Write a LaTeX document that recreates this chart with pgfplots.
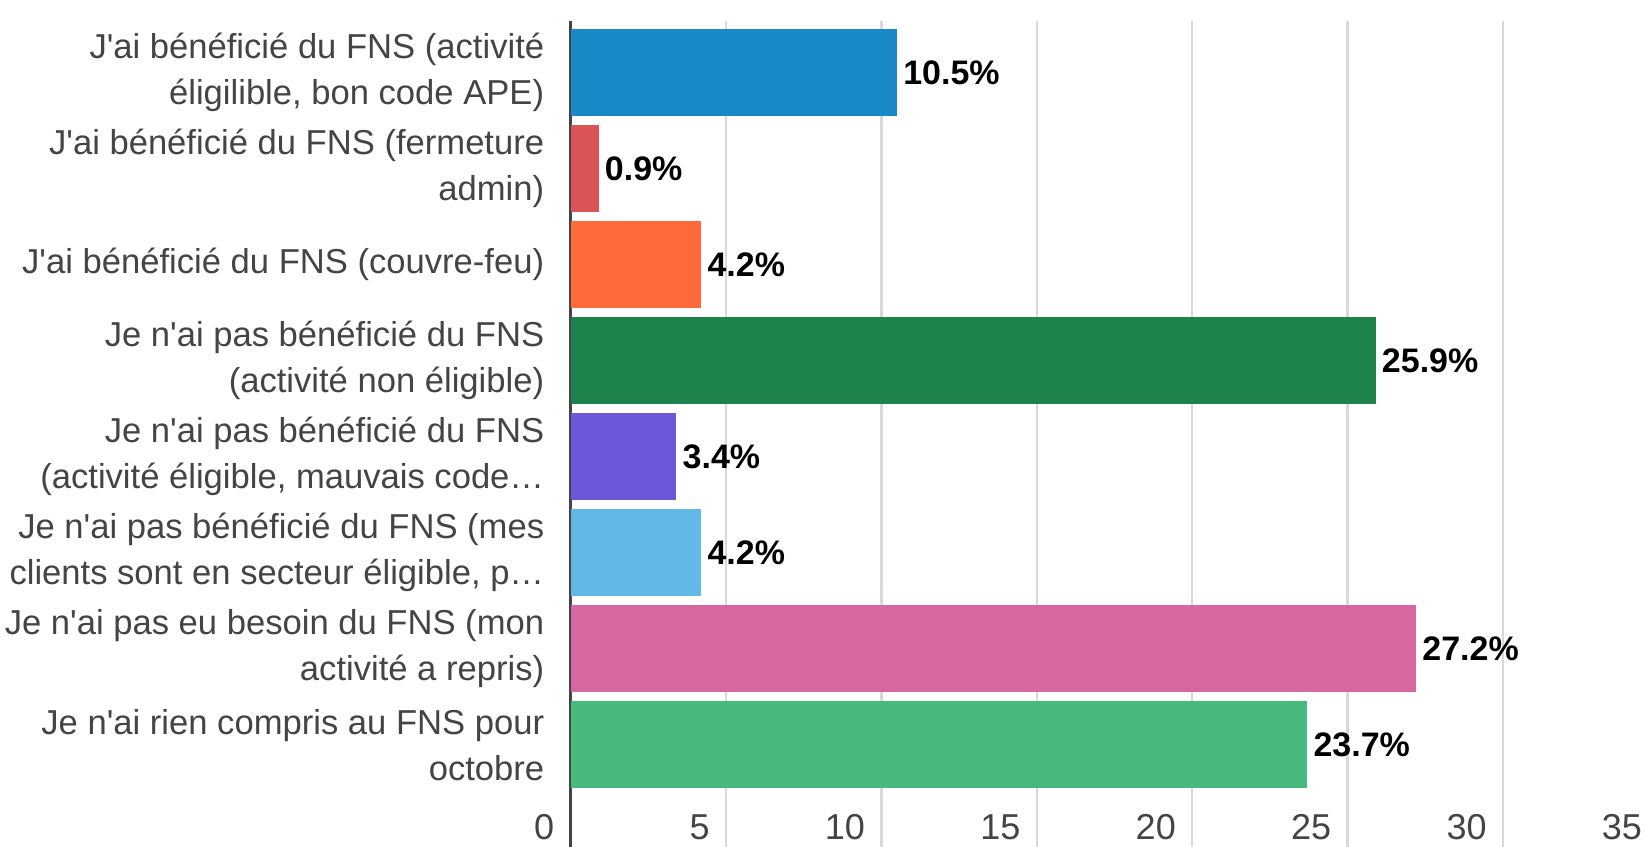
\documentclass[border=0pt]{standalone}
\usepackage{fontspec}
\setmainfont{Liberation Sans}
\usepackage{pgfplots}
\pgfplotsset{compat=1.18}

\definecolor{labelgray}{HTML}{444444}
\definecolor{gridgray}{HTML}{D9D9D9}
\definecolor{cA}{HTML}{1989C8}
\definecolor{cB}{HTML}{DB5455}
\definecolor{cC}{HTML}{FF6A3A}
\definecolor{cD}{HTML}{1E824C}
\definecolor{cE}{HTML}{6C56DA}
\definecolor{cF}{HTML}{62B8E6}
\definecolor{cG}{HTML}{D6679F}
\definecolor{cH}{HTML}{48B97D}
\newcommand{\ap}{\textquotesingle}

\begin{document}
\begin{tikzpicture}
\begin{axis}[
name=ax, scale only axis, width=543.9pt, height=413pt,
xbar, bar width=43.5pt, bar shift=0pt,
xmin=0, xmax=35, ymin=-1.066, ymax=7.54,
xtick={0,5,...,35}, ytick={0,...,7},
yticklabels={
 Je n\ap ai rien compris au FNS pour\\octobre,
 Je n\ap ai pas eu besoin du FNS (mon\\activité a repris),
 {Je n\ap ai pas bénéficié du FNS (mes\\clients sont en secteur éligible, p…},
 {Je n\ap ai pas bénéficié du FNS\\(activité éligible, mauvais code…},
 Je n\ap ai pas bénéficié du FNS\\(activité non éligible),
 J\ap ai bénéficié du FNS (couvre-feu),
 J\ap ai bénéficié du FNS (fermeture\\admin),
 {J\ap ai bénéficié du FNS (activité\\éligilible, bon code APE)}
},
separate axis lines, axis x line*=bottom, axis y line*=left,
x axis line style={draw=none},
y axis line style={draw=labelgray, line width=1.9pt},
major tick length=0pt,
xmajorgrids, major grid style={gridgray, line width=1.2pt},
/pgf/number format/assume math mode=true,
yticklabel style={font=\fontsize{17.3}{23}\selectfont, text=labelgray, align=right, inner sep=0pt, xshift=-13pt},
xticklabel style={font=\fontsize{18}{20}\selectfont, text=labelgray, anchor=base east, inner sep=0pt, xshift=-8pt, yshift=3.5pt},
nodes near coords={\pgfmathprintnumber[fixed,fixed zerofill,precision=1]{\pgfplotspointmeta}\%},
every node near coord/.append style={font=\bfseries\fontsize{17}{20}\selectfont, text=black, anchor=west, inner sep=0pt, xshift=3pt},
]
\addplot[fill=cA, draw=none] coordinates {(10.5,7)};
\addplot[fill=cB, draw=none] coordinates {(0.9,6)};
\addplot[fill=cC, draw=none] coordinates {(4.2,5)};
\addplot[fill=cD, draw=none] coordinates {(25.9,4)};
\addplot[fill=cE, draw=none] coordinates {(3.4,3)};
\addplot[fill=cF, draw=none] coordinates {(4.2,2)};
\addplot[fill=cG, draw=none] coordinates {(27.2,1)};
\addplot[fill=cH, draw=none] coordinates {(23.7,0)};
\end{axis}
\pgfresetboundingbox
\path[use as bounding box] ([xshift=-285.3pt]ax.south west) rectangle ([xshift=537.7pt,yshift=423.5pt]ax.south west);
\end{tikzpicture}
\end{document}
